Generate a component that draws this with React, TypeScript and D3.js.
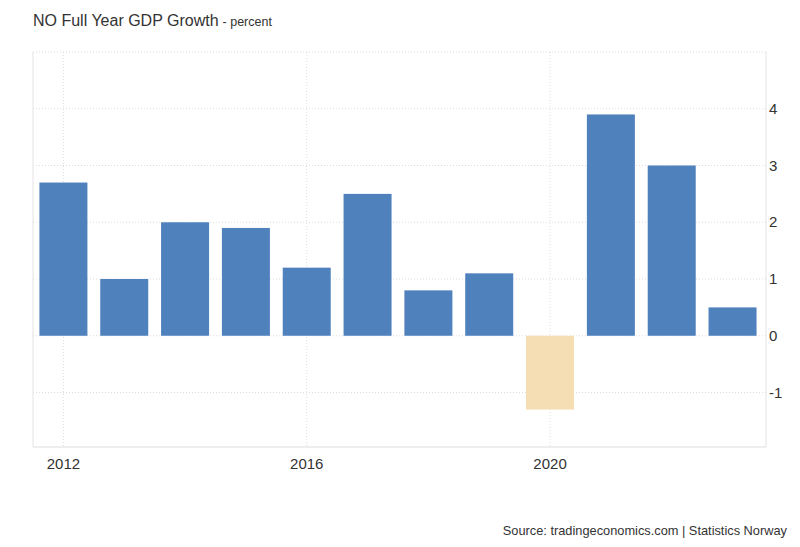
import React from "react";
import * as d3 from "d3";

const years = [2012, 2013, 2014, 2015, 2016, 2017, 2018, 2019, 2020, 2021, 2022, 2023];
const growth = [2.7, 1.0, 2.0, 1.9, 1.2, 2.5, 0.8, 1.1, -1.3, 3.9, 3.0, 0.5];
const yTicks = [-1, 0, 1, 2, 3, 4];
const xTicks = [2012, 2016, 2020];

const W = 800, H = 547;
const L = 33, R = 766, T = 52, B = 447;

export default function App() {
  const x = d3.scaleLinear().domain([2011.5, 2023.55]).range([L, R]);
  const y = d3.scaleLinear().domain([-1.96, 5.0]).range([B, T]);
  const bw = 48;
  const font = "Arial, 'Liberation Sans', sans-serif";
  return (
    <svg width={W} height={H} style={{ position: "absolute", left: 0, top: 0, background: "#fff" }} fontFamily={font}>
      <text x={33} y={26} fontSize={16} fill="#333">
        NO Full Year GDP Growth<tspan fontSize={12.5} dx={4}>- percent</tspan>
      </text>
      {yTicks.map((t) => (
        <line key={"g" + t} x1={L} x2={R} y1={y(t)} y2={y(t)} stroke="#ddd" strokeDasharray="1,2" />
      ))}
      <line x1={L} x2={R} y1={T} y2={T} stroke="#ddd" strokeDasharray="1,2" />
      {xTicks.map((t) => (
        <line key={"v" + t} x1={x(t)} x2={x(t)} y1={T} y2={B} stroke="#ddd" strokeDasharray="1,2" />
      ))}
      <line x1={L} x2={L} y1={T} y2={B} stroke="#e3e3e3" />
      <line x1={R} x2={R} y1={T} y2={B} stroke="#e3e3e3" />
      <line x1={L} x2={R} y1={B} y2={B} stroke="#ddd" />
      {years.map((yr, i) => {
        const v = growth[i];
        const y0 = y(0), y1 = y(v);
        return (
          <rect key={yr} x={x(yr) - bw / 2} y={Math.min(y0, y1)} width={bw} height={Math.abs(y1 - y0)}
            fill={v < 0 ? "#f5deb3" : "#4f81bd"} />
        );
      })}
      {yTicks.map((t) => (
        <text key={"l" + t} x={769} y={y(t) + 5} fontSize={15} fill="#333">{t}</text>
      ))}
      {xTicks.map((t) => (
        <text key={"xl" + t} x={x(t)} y={469} fontSize={15} fill="#333" textAnchor="middle">{t}</text>
      ))}
      <text x={787} y={535} fontSize={12.8} fill="#333" textAnchor="end">Source: tradingeconomics.com | Statistics Norway</text>
    </svg>
  );
}
